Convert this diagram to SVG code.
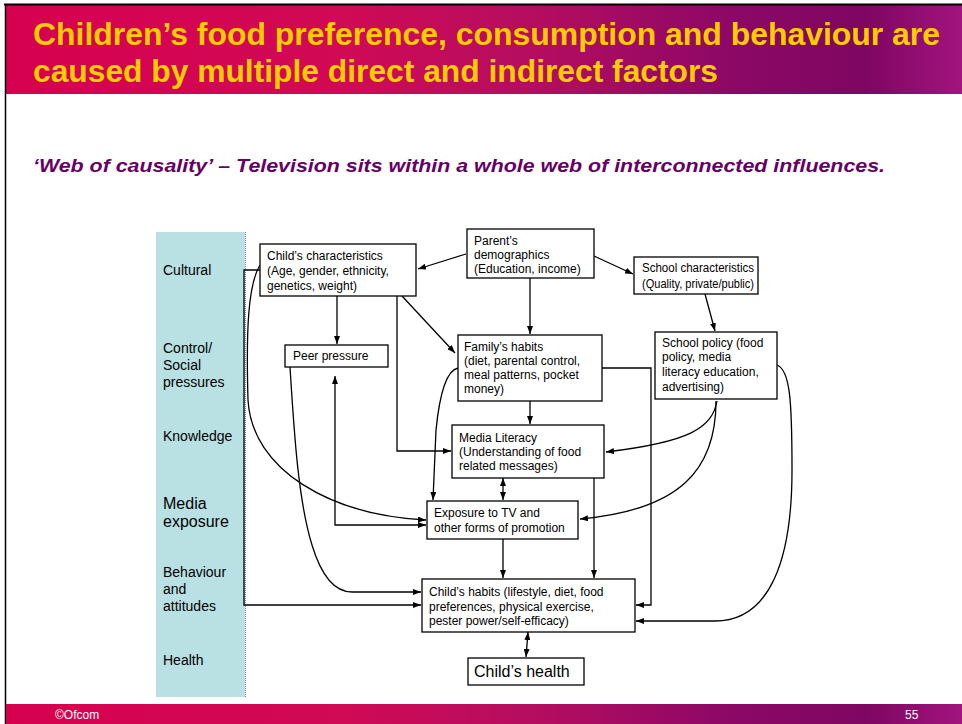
<svg xmlns="http://www.w3.org/2000/svg" width="962" height="724" viewBox="0 0 962 724">
<style>
.box{fill:#fff;stroke:#000;stroke-width:1.3}
.t{font-family:"Liberation Sans",Arial,sans-serif;font-size:12px;fill:#000}
.lab{font-family:"Liberation Sans",Arial,sans-serif;font-size:14px;fill:#000}
.big{font-size:16px}
.c{fill:none;stroke:#000;stroke-width:1.3}
.e{marker-end:url(#ah)}
.b{marker-start:url(#ah);marker-end:url(#ah)}
</style>
<defs>
<linearGradient id="hg" x1="0" y1="0" x2="1" y2="0">
<stop offset="0" stop-color="#d6004f"/>
<stop offset="0.35" stop-color="#d10a55"/>
<stop offset="0.55" stop-color="#b50d60"/>
<stop offset="0.75" stop-color="#8e0866"/>
<stop offset="0.9" stop-color="#7e0662"/>
<stop offset="1" stop-color="#a2147e"/>
</linearGradient>
<marker id="ah" viewBox="0 0 8 6" refX="8" refY="3" markerWidth="8" markerHeight="6" markerUnits="userSpaceOnUse" orient="auto-start-reverse">
<path d="M0,0 L8,3 L0,6 z" fill="#000"/>
</marker>
</defs>
<rect x="0" y="0" width="962" height="724" fill="#fff"/>
<g id="header">
<rect x="5" y="5" width="957" height="89" fill="url(#hg)"/>
<line x1="4" y1="4.5" x2="962" y2="4.5" stroke="#000" stroke-width="2"/>
<text x="33" y="45" font-family="'Liberation Sans',Arial,sans-serif" font-size="32" font-weight="bold" fill="#ffcc00" textLength="907" lengthAdjust="spacingAndGlyphs">Children’s food preference, consumption and behaviour are</text>
<text x="33" y="82" font-family="'Liberation Sans',Arial,sans-serif" font-size="32" font-weight="bold" fill="#ffcc00" textLength="685" lengthAdjust="spacingAndGlyphs">caused by multiple direct and indirect factors</text>
</g>
<line x1="5.5" y1="4" x2="5.5" y2="724" stroke="#000" stroke-width="1.5"/>
<text x="33" y="172" font-family="'Liberation Sans',Arial,sans-serif" font-size="18" font-weight="bold" font-style="italic" fill="#660066" textLength="852" lengthAdjust="spacingAndGlyphs">‘Web of causality’ – Television sits within a whole web of interconnected influences.</text>
<g id="footer">
<rect x="6" y="704" width="956" height="20" fill="url(#hg)"/>
<text x="55" y="719" font-family="'Liberation Sans',Arial,sans-serif" font-size="12" fill="#fff">©Ofcom</text>
<text x="905" y="719" font-family="'Liberation Sans',Arial,sans-serif" font-size="12" fill="#fff">55</text>
</g>
<g id="levels">
<rect x="156" y="232" width="89" height="465" fill="#b9e0e3"/>
<line x1="245.5" y1="232" x2="245.5" y2="697" stroke="#888" stroke-width="1" stroke-dasharray="1,1"/>
<text class="lab" x="163" y="275">Cultural</text>
<text class="lab" x="163" y="353">Control/</text>
<text class="lab" x="163" y="370">Social</text>
<text class="lab" x="163" y="387">pressures</text>
<text class="lab" x="163" y="441">Knowledge</text>
<text class="lab big" x="163" y="509">Media</text>
<text class="lab big" x="163" y="527">exposure</text>
<text class="lab" x="163" y="577">Behaviour</text>
<text class="lab" x="163" y="594">and</text>
<text class="lab" x="163" y="611">attitudes</text>
<text class="lab" x="163" y="665">Health</text>
</g>
<g id="connectors">
<path class="c e" d="M466,254 L418,269"/>
<path class="c e" d="M594,256 L633,274"/>
<path class="c e" d="M530,278 L530,334"/>
<path class="c e" d="M705,294 L715,331"/>
<path class="c e" d="M337,296 L337,344"/>
<path class="c e" d="M402,296 L455,353"/>
<path class="c e" d="M397,296 L397,451 L451,451"/>
<path class="c e" d="M530,401 L530,424"/>
<path class="c b" d="M503,478 L503,500"/>
<path class="c e" d="M503,539 L503,578"/>
<path class="c e" d="M594,478 L594,578"/>
<path class="c b" d="M528,632 L526,657"/>
<path class="c e" d="M602,368 L651,368 L651,605 L636,605"/>
<path class="c e" d="M777,365 C790,370 792,400 792,470 C792,560 770,621 715,621 L636,621"/>
<path class="c e" d="M717,401 C712,428 690,442 606,452"/>
<path class="c e" d="M716,401 C716,470 680,510 580,519"/>
<path class="c e" d="M458,368 C448,370 440,390 436,430 L433,500"/>
<path class="c e" d="M260,270 L244,270 L244,605 L421,605"/>
<path class="c e" d="M260,265 C248,285 246,330 248,400 C252,470 330,515 426,520"/>
<path class="c e" d="M290,367 C294,430 298,500 312,545 C322,578 335,592 352,592 L421,592"/>
<path class="c b" d="M335,376 L335,525 L426,525"/>
</g>
<g id="child-characteristics">
<rect class="box" x="260" y="244" width="156" height="52"/>
<text class="t" x="267" y="260">Child’s characteristics</text>
<text class="t" x="267" y="275">(Age, gender, ethnicity,</text>
<text class="t" x="267" y="290">genetics, weight)</text>
</g>
<g id="peer-pressure">
<rect class="box" x="285" y="345" width="103" height="22"/>
<text class="t" x="293" y="360">Peer pressure</text>
</g>
<g id="parent-demographics">
<rect class="box" x="467" y="229" width="127" height="49"/>
<text class="t" x="474" y="245">Parent’s</text>
<text class="t" x="474" y="259">demographics</text>
<text class="t" x="474" y="273">(Education, income)</text>
</g>
<g id="school-characteristics">
<rect class="box" x="634" y="257" width="124" height="37"/>
<text class="t" x="642" y="272" textLength="112" lengthAdjust="spacingAndGlyphs">School characteristics</text>
<text class="t" x="642" y="288" textLength="112" lengthAdjust="spacingAndGlyphs">(Quality, private/public)</text>
</g>
<g id="family-habits">
<rect class="box" x="458" y="335" width="144" height="66"/>
<text class="t" x="464" y="351">Family’s habits</text>
<text class="t" x="464" y="365">(diet, parental control,</text>
<text class="t" x="464" y="379">meal patterns, pocket</text>
<text class="t" x="464" y="393">money)</text>
</g>
<g id="school-policy">
<rect class="box" x="655" y="332" width="122" height="67"/>
<text class="t" x="662" y="347">School policy (food</text>
<text class="t" x="662" y="361">policy, media</text>
<text class="t" x="662" y="376">literacy education,</text>
<text class="t" x="662" y="391">advertising)</text>
</g>
<g id="media-literacy">
<rect class="box" x="452" y="425" width="152" height="53"/>
<text class="t" x="459" y="442">Media Literacy</text>
<text class="t" x="459" y="456">(Understanding of food</text>
<text class="t" x="459" y="470">related messages)</text>
</g>
<g id="exposure">
<rect class="box" x="427" y="501" width="151" height="38"/>
<text class="t" x="434" y="517">Exposure to TV and</text>
<text class="t" x="434" y="532">other forms of promotion</text>
</g>
<g id="child-habits">
<rect class="box" x="422" y="579" width="213" height="53"/>
<text class="t" x="429" y="596">Child’s habits (lifestyle, diet, food</text>
<text class="t" x="429" y="611">preferences, physical exercise,</text>
<text class="t" x="429" y="625">pester power/self-efficacy)</text>
</g>
<g id="child-health">
<rect class="box" x="468" y="658" width="116" height="27"/>
<text class="t big" x="474" y="677">Child’s health</text>
</g>
</svg>
